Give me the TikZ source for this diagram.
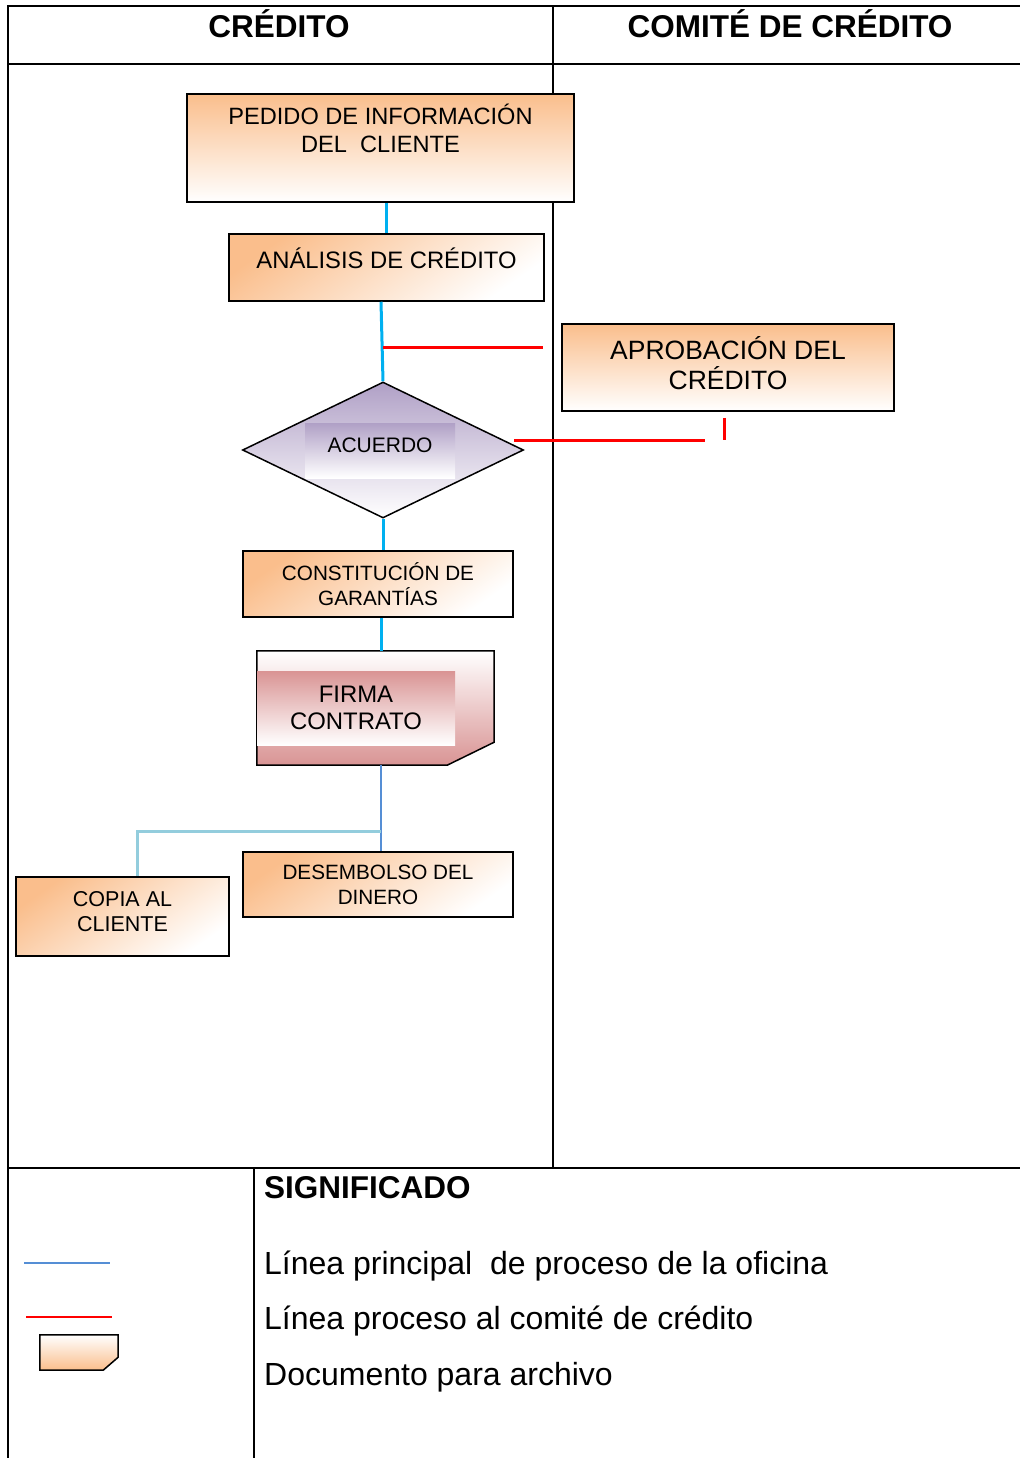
\documentclass[tikz,border=0pt]{standalone}
\usepackage{fontspec}
\setmainfont{Liberation Sans}
\usetikzlibrary{shapes.geometric}
\definecolor{naranja}{RGB}{250,190,140}
\definecolor{lila}{RGB}{176,160,198}
\definecolor{rosa}{RGB}{217,148,148}
\definecolor{celeste}{RGB}{0,176,240}
\definecolor{azul}{RGB}{85,142,213}
\definecolor{claro}{RGB}{147,205,221}
\begin{document}
\begin{tikzpicture}[x=1pt,y=-1pt,
    tabla/.style={line width=1.5pt},
    titulo/.style={anchor=base,font=\fontsize{31.5}{36}\selectfont\bfseries},
    caja/.style={draw,line width=1.5pt,inner sep=0pt,align=center,top color=naranja,bottom color=white},
    diag/.style={caja,shading angle=35},
    linea/.style={line width=3pt,color=celeste},
    roja/.style={line width=3pt,color=red},
    leyenda/.style={anchor=west,inner sep=0pt,font=\fontsize{32}{38}\selectfont}]
  \useasboundingbox (0,0) rectangle (1020,1458);
  % tabla
  \draw[tabla] (8,1458) -- (8,6) -- (1020,6);
  \draw[tabla] (8,64) -- (1020,64);
  \draw[tabla] (553,6) -- (553,1168);
  \draw[tabla] (8,1168) -- (1020,1168);
  \draw[tabla] (254,1168) -- (254,1458);
  \node[titulo] (credito) at (279,38) {CRÉDITO};
  \node[titulo] (comite) at (790,38) {COMITÉ DE CRÉDITO};
  % cajas
  \node[caja,minimum width=387,minimum height=108,text depth=39pt,font=\fontsize{23.6}{28}\selectfont] (pedido) at (380.5,148) {PEDIDO DE INFORMACIÓN\\DEL\ \ CLIENTE};
  \node[diag,minimum width=315,minimum height=67,text depth=19pt,font=\fontsize{23.8}{28}\selectfont] (analisis) at (386.5,267.5) {ANÁLISIS DE CRÉDITO};
  \node[caja,minimum width=332,minimum height=87,text depth=8pt,font=\fontsize{26.5}{30}\selectfont] (aprobacion) at (728,367.5) {APROBACIÓN DEL\\CRÉDITO};
  \node[diamond,draw,line width=1.5pt,inner sep=0pt,minimum width=281,minimum height=136,top color=lila,bottom color=white] (acuerdo) at (383,450) {};
  \node[inner sep=0pt,minimum width=150,minimum height=55,text depth=11pt,top color=lila,bottom color=white,font=\fontsize{21}{25}\selectfont] (acuerdotxt) at (380,450.5) {ACUERDO};
  \node[diag,minimum width=270,minimum height=66,font=\fontsize{20.7}{25}\selectfont] (constitucion) at (378,584) {CONSTITUCIÓN DE\\GARANTÍAS};
  \node[inner sep=0pt,minimum width=237,minimum height=114] (doc) at (375.5,708) {};
  \shade[draw,line width=1.5pt,top color=white,bottom color=rosa] (doc.north west) -- (doc.north east) -- ([yshift=23pt]doc.south east) -- ([xshift=-47pt]doc.south east) -- (doc.south west) -- cycle;
  \node[inner sep=0pt,align=center,minimum width=198,minimum height=74,top color=rosa,bottom color=white,font=\fontsize{23.9}{27}\selectfont] (firma) at (356,708) {FIRMA\\CONTRATO};
  \node[diag,minimum width=270,minimum height=65,font=\fontsize{20.7}{25}\selectfont] (desembolso) at (378,884.5) {DESEMBOLSO DEL\\DINERO};
  \node[diag,minimum width=213,minimum height=79,text depth=10pt,font=\fontsize{21.5}{25}\selectfont] (copia) at (122.5,916.5) {COPIA AL\\CLIENTE};
  % conectores
  \coordinate (eje) at (381,0);
  \coordinate (r1) at (383,347);
  \coordinate (r1b) at (543,347);
  \coordinate (r2) at (705,440);
  \coordinate (r3) at (724,440);
  \coordinate (rama) at (381,831);
  \draw[linea] (analisis.north |- pedido.south) -- (analisis.north);
  \draw[linea] (analisis.south -| eje) -- (acuerdo.north);
  \draw[roja] (r1) -- (r1b);
  \draw[roja] ([xshift=-10pt,yshift=10pt]acuerdo.east) -- (r2);
  \draw[roja] ([xshift=-4pt,yshift=-6pt]aprobacion.south) -- (r3);
  \draw[linea] (acuerdo.south) -- (acuerdo.south |- constitucion.north);
  \draw[linea] (eje |- constitucion.south) -- (eje |- doc.north);
  \draw[line width=2pt,azul] (eje |- doc.south) -- (eje |- desembolso.north);
  \draw[line width=3pt,claro] (rama) -| ([xshift=15pt]copia.north);
  % significado
  \node[anchor=west,inner sep=0pt,font=\fontsize{31.5}{36}\selectfont\bfseries] (significado) at (264,1188) {SIGNIFICADO};
  \draw[line width=2pt,azul] (24,1263) -- (110,1263);
  \draw[line width=2pt,red] (26,1317) -- (112,1317);
  \node[inner sep=0pt,minimum width=78,minimum height=35] (icono) at (79,1352.5) {};
  \shade[draw,line width=1.5pt,top color=white,bottom color=naranja] (icono.north west) -- (icono.north east) -- ([yshift=13pt]icono.south east) -- ([xshift=-15pt]icono.south east) -- (icono.south west) -- cycle;
  \node[leyenda] (ley1) at (264,1266) {Línea principal\ \ de proceso de la oficina};
  \node[leyenda] (ley2) at (264,1321) {Línea proceso al comité de crédito};
  \node[leyenda] (ley3) at (264,1377) {Documento para archivo};
\end{tikzpicture}
\end{document}
